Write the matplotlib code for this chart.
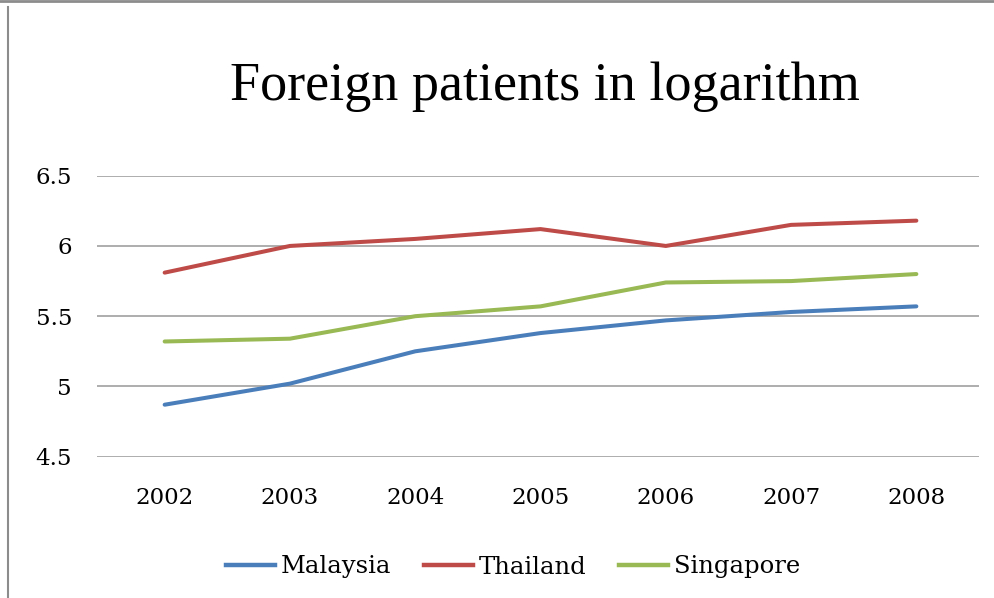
import matplotlib.pyplot as plt
from matplotlib.lines import Line2D

years = ["2002", "2003", "2004", "2005", "2006", "2007", "2008"]
malaysia = [4.87, 5.02, 5.25, 5.38, 5.47, 5.53, 5.57]
thailand = [5.81, 6.00, 6.05, 6.12, 6.00, 6.15, 6.18]
singapore = [5.32, 5.34, 5.50, 5.57, 5.74, 5.75, 5.80]
y_ticks = [4.5, 5, 5.5, 6, 6.5]
y_labels = ["4.5", "5", "5.5", "6", "6.5"]

series = [
    ("Malaysia", malaysia, "#4a7ebb"),
    ("Thailand", thailand, "#be4b48"),
    ("Singapore", singapore, "#98b954"),
]

W, H = 994, 598
fig = plt.figure(figsize=(W / 100, H / 100), dpi=100, facecolor="white")

# plot area in pixel coords of the reference
left, right, top, bottom = 97, 979, 175.7, 456.7
ax = fig.add_axes([left / W, 1 - bottom / H, (right - left) / W, (bottom - top) / H])

x = list(range(len(years)))
for name, vals, col in series:
    ax.plot(x, vals, color=col, lw=2.9, label=name, solid_capstyle="round")

ax.set_xlim(-0.54, len(years) - 0.5)
ax.set_ylim(4.5, 6.5)
ax.set_yticks(y_ticks)
ax.set_yticklabels(y_labels)
ax.set_xticks(x)
ax.set_xticklabels(years)
ax.grid(axis="y", color="#a0a0a0", lw=1.2)
ax.set_axisbelow(True)
for s in ax.spines.values():
    s.set_visible(False)
ax.tick_params(length=0, labelsize=16.5)
ax.tick_params(axis="y", pad=18)
ax.tick_params(axis="x", pad=22)
for lab in ax.get_xticklabels() + ax.get_yticklabels():
    lab.set_family("DejaVu Serif")

fig.text(545 / W, 1 - 100 / H, "Foreign patients in logarithm",
         ha="center", va="baseline", fontsize=39, family="Liberation Serif")

handles = [Line2D([], [], color=c, lw=3.2) for _, _, c in series]
fig.legend(handles, [n for n, _, _ in series], loc="center",
           bbox_to_anchor=(513 / W, 1 - 567 / H), ncol=3, frameon=False,
           handlelength=2.0, handletextpad=0.25, columnspacing=1.35,
           borderpad=0, prop={"family": "DejaVu Serif", "size": 17.5})

# chart frame
fig.add_artist(Line2D([0, 1], [1 - 1 / H, 1 - 1 / H], color="#8c8c8c", lw=2,
                      transform=fig.transFigure))
fig.add_artist(Line2D([8 / W, 8 / W], [0, 1 - 7 / H], color="#8c8c8c", lw=1.5,
                      transform=fig.transFigure))

fig.savefig("out.png", dpi=100, facecolor="white")
